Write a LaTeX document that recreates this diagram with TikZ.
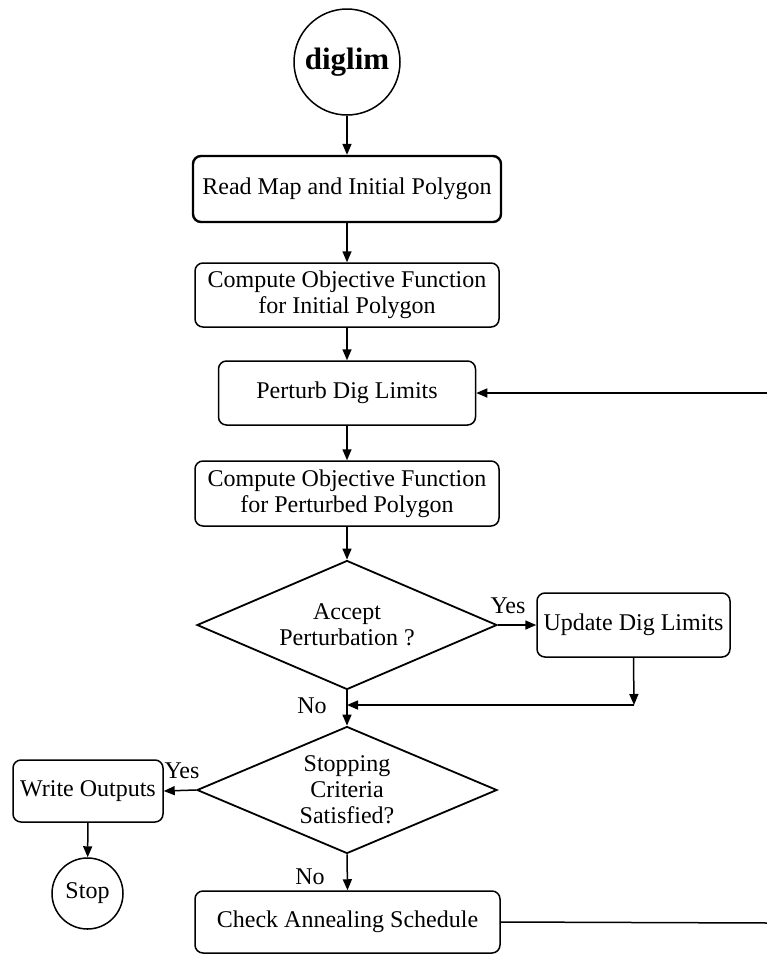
\documentclass[tikz,border=0pt]{standalone}
\usepackage{fontspec}
\setmainfont{Liberation Serif}
\usetikzlibrary{arrows.meta,shapes.geometric}
\begin{document}
\begin{tikzpicture}[x=1pt,y=-1pt,
  every node/.style={font=\fontsize{24}{26}\selectfont},
  box/.style={draw,rounded corners=8pt,line width=1.5pt,inner sep=0pt,align=center},
  dec/.style={draw,diamond,line width=1.8pt,inner sep=0pt,align=center,aspect=2.3},
  term/.style={draw,circle,line width=1.5pt,inner sep=0pt},
  lbl/.style={inner sep=0pt},
  arr/.style={line width=1.5pt,-{Triangle[length=11pt,width=9pt]}},
  ln/.style={line width=1.5pt}]
\useasboundingbox (0,0) rectangle (767,954);
\node[term,minimum size=106pt,font=\fontsize{31}{34}\selectfont\bfseries] (start) at (347,62) {diglim};
\node[box,line width=2.4pt,minimum width=308pt,minimum height=66pt] (read) at (347,189) {Read Map and Initial Polygon};
\node[box,minimum width=304pt,minimum height=64pt] (obj1) at (347,295) {Compute Objective Function\\for Initial Polygon};
\node[box,minimum width=257pt,minimum height=64pt] (perturb) at (347,393) {Perturb Dig Limits};
\node[box,minimum width=304pt,minimum height=65pt] (obj2) at (347,493.5) {Compute Objective Function\\for Perturbed Polygon};
\node[dec,minimum width=300pt,minimum height=129pt] (accept) at (347,625) {Accept\\Perturbation ?};
\node[box,minimum width=193pt,minimum height=64pt] (update) at (633.5,625) {Update Dig Limits};
\node[dec,minimum width=300pt,minimum height=127pt] (stopc) at (347,790) {Stopping\\Criteria\\Satisfied?};
\node[box,minimum width=150pt,minimum height=62pt] (write) at (88,791) {Write Outputs};
\node[term,minimum size=71pt] (stop) at (87.5,893.5) {Stop};
\node[box,minimum width=305pt,minimum height=62pt] (check) at (347.5,922) {Check Annealing Schedule};
\coordinate (join) at (347,705);
\coordinate (ucorner) at (634,705);
\coordinate (rb) at (768.5,923);
\coordinate (rt) at (768.5,393);
\node[lbl] at (508,606) {Yes};
\node[lbl] at (182,771) {Yes};
\node[lbl] at (312,706) {No};
\node[lbl] at (310,877) {No};
\draw[arr] (start) -- (read);
\draw[arr] (read) -- (obj1);
\draw[arr] (obj1) -- (perturb);
\draw[arr] (perturb) -- (obj2);
\draw[arr] (obj2) -- (accept);
\draw[arr] (accept.east) -- (update.west);
\draw[arr] (update.south) -- (ucorner);
\draw[arr] (ucorner) -- (join);
\draw[arr] (accept.south) -- (stopc.north);
\draw[arr] (stopc.west) -- (write.east);
\draw[arr] (write) -- (stop);
\draw[arr] (stopc.south) -- (check.north);
\draw[ln] (check.east) -- (rb) -- (rt);
\draw[arr] (rt) -- (perturb.east);
\end{tikzpicture}
\end{document}
